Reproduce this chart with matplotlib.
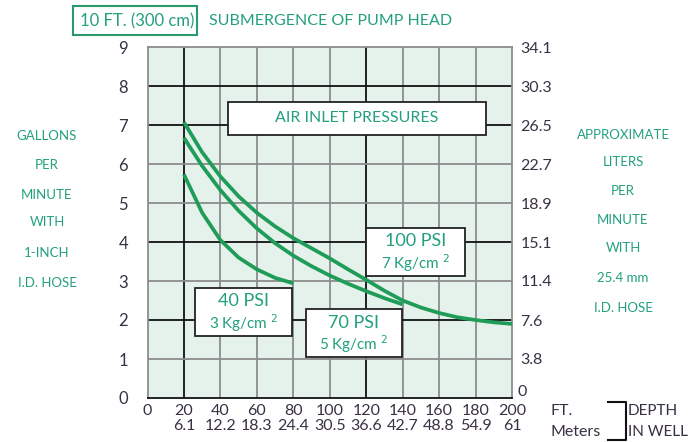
import numpy as np
import matplotlib
matplotlib.use("Agg")
import matplotlib.pyplot as plt
from matplotlib.patches import Rectangle
from matplotlib.lines import Line2D

plt.rcParams['font.family'] = ['Lato', 'DejaVu Sans']

# depth in well (ft) and flow (gallons per minute)
depth_100 = [20, 30, 40, 50, 60, 70, 80, 90, 100, 110, 120, 130, 140, 150, 160, 170, 180, 190, 200]
gpm_100 = [7.07, 6.3, 5.68, 5.17, 4.75, 4.4, 4.1, 3.84, 3.58, 3.3, 3.03, 2.75, 2.5, 2.32, 2.18, 2.07, 2.0, 1.94, 1.9]
depth_70 = [20, 30, 40, 50, 60, 70, 80, 90, 100, 110, 120, 130, 140]
gpm_70 = [6.67, 5.95, 5.33, 4.8, 4.35, 3.97, 3.65, 3.38, 3.14, 2.93, 2.74, 2.56, 2.4]
depth_40 = [20, 30, 40, 50, 60, 70, 80]
gpm_40 = [5.73, 4.75, 4.05, 3.6, 3.3, 3.08, 2.94]

ft_ticks = [0, 20, 40, 60, 80, 100, 120, 140, 160, 180, 200]
meter_labels = ['', '6.1', '12.2', '18.3', '24.4', '30.5', '36.6', '42.7', '48.8', '54.9', '61']
gpm_ticks = [0, 1, 2, 3, 4, 5, 6, 7, 8, 9]
lpm_labels = ['0', '3.8', '7.6', '11.4', '15.1', '18.9', '22.7', '26.5', '30.3', '34.1']

TEXT_GREEN = '#22a07c'
CURVE = '#1f9c57'
NUM = '#3a3044'

W, H = 689, 442
fig = plt.figure(figsize=(W / 100, H / 100), dpi=100)

def fx(px):
    return px / W

def fy(py):
    return 1 - py / H

ax = fig.add_axes([fx(147.5), fy(398), (512 - 147.5) / W, (398 - 47) / H])
ax.set_facecolor('#e5f2eb')
ax.set_xlim(0, 200)
ax.set_ylim(0, 9)

# grid
for v in ft_ticks[1:-1]:
    c = '#111111' if v in (20, 120) else '#8c8c8c'
    ax.axvline(v, color=c, lw=1.3, zorder=1)
for v in gpm_ticks[1:-1]:
    c = '#111111' if v in (2, 4, 7, 8) else '#8c8c8c'
    ax.axhline(v, color=c, lw=1.3, zorder=1)
for s in ['top', 'right', 'left']:
    ax.spines[s].set_color('#8c8c8c')
    ax.spines[s].set_linewidth(1.3)
ax.spines['bottom'].set_color('#111111')
ax.spines['bottom'].set_linewidth(1.3)

# curves
for d, g in [(depth_100, gpm_100), (depth_70, gpm_70), (depth_40, gpm_40)]:
    ax.plot(d, g, color=CURVE, lw=2.7, solid_capstyle='butt', solid_joinstyle='round', zorder=3, clip_on=False)

# ticks
ax.set_xticks(ft_ticks)
ax.set_xticklabels([f'{f}\n{m}' if m else f'{f}\n ' for f, m in zip(ft_ticks, meter_labels)],
                   fontsize=11.5, color=NUM, linespacing=1.15)
ax.set_yticks(gpm_ticks)
ax.set_yticklabels([str(v) for v in gpm_ticks], fontsize=12, color=NUM)
ax.tick_params(axis='x', length=0, pad=4)
ax.tick_params(axis='y', length=0, pad=14)

ax2 = ax.twinx()
ax2.set_ylim(0, 9)
ax2.set_yticks(gpm_ticks)
ax2.set_yticklabels([''] + lpm_labels[1:], fontsize=11.5, color=NUM)
ax2.tick_params(axis='y', length=0, pad=6)
for s in ax2.spines.values():
    s.set_visible(False)
# the zero on the right sits a little higher than the axis line
fig.text(fx(517), fy(392), lpm_labels[0], ha='left', va='center', fontsize=11.5, color=NUM)

# label boxes
def box(x0, x1, y0, y1):
    ax.add_patch(Rectangle((x0, y0), x1 - x0, y1 - y0, facecolor='white', edgecolor='#222222',
                           lw=1.3, zorder=4))

box(44, 185.5, 6.75, 7.6)
ax.text(114.7, 7.17, 'AIR INLET PRESSURES', ha='center', va='center', fontsize=11.5, color=TEXT_GREEN, zorder=5)

box(120, 174, 3.13, 4.36)
ax.text(147, 4.02, '100 PSI', ha='center', va='center', fontsize=13, color=TEXT_GREEN, zorder=5)
ax.text(147, 3.45, '7 Kg/cm $^2$', ha='center', va='center', fontsize=11, color=TEXT_GREEN, zorder=5)

box(26, 79.5, 1.59, 2.82)
ax.text(52.7, 2.48, '40 PSI', ha='center', va='center', fontsize=13, color=TEXT_GREEN, zorder=5)
ax.text(52.7, 1.92, '3 Kg/cm $^2$', ha='center', va='center', fontsize=11, color=TEXT_GREEN, zorder=5)

box(87, 139.6, 1.05, 2.28)
ax.text(113.3, 1.93, '70 PSI', ha='center', va='center', fontsize=13, color=TEXT_GREEN, zorder=5)
ax.text(113.3, 1.38, '5 Kg/cm $^2$', ha='center', va='center', fontsize=11, color=TEXT_GREEN, zorder=5)

# header
fig.patches.append(Rectangle((fx(73), fy(35)), fx(197) - fx(73), fy(6) - fy(35), transform=fig.transFigure,
                             facecolor='white', edgecolor='#2a9a6a', lw=1.5))
fig.text(fx(137), fy(21), '10 FT. (300 cm)', ha='center', va='center', fontsize=12, color=TEXT_GREEN)
fig.text(fx(209), fy(21), 'SUBMERGENCE OF PUMP HEAD', ha='left', va='center', fontsize=11.5, color=TEXT_GREEN)

# side labels
for t, py in zip(['GALLONS', 'PER', 'MINUTE', 'WITH', '1-INCH', 'I.D. HOSE'],
                 [136, 165, 195, 222, 253, 283]):
    fig.text(fx(47), fy(py), t, ha='center', va='center', fontsize=9.5, color=TEXT_GREEN)
for t, py in zip(['APPROXIMATE', 'LITERS', 'PER', 'MINUTE', 'WITH', '25.4 mm', 'I.D. HOSE'],
                 [135, 162, 191, 220, 248, 278, 308]):
    fig.text(fx(623), fy(py), t, ha='center', va='center', fontsize=9.5, color=TEXT_GREEN)

# bottom units
fig.text(fx(551), fy(411), 'FT.', ha='left', va='center', fontsize=11.5, color=NUM)
fig.text(fx(551), fy(432), 'Meters', ha='left', va='center', fontsize=11.5, color=NUM)
fig.lines.append(Line2D([fx(608), fx(626), fx(626), fx(608)], [fy(402), fy(402), fy(440), fy(440)],
                        transform=fig.transFigure, color='#111111', lw=1.5))
fig.text(fx(628), fy(411), 'DEPTH', ha='left', va='center', fontsize=11, color=NUM)
fig.text(fx(628), fy(432), 'IN WELL', ha='left', va='center', fontsize=11, color=NUM)

fig.savefig('out.png', dpi=100)
